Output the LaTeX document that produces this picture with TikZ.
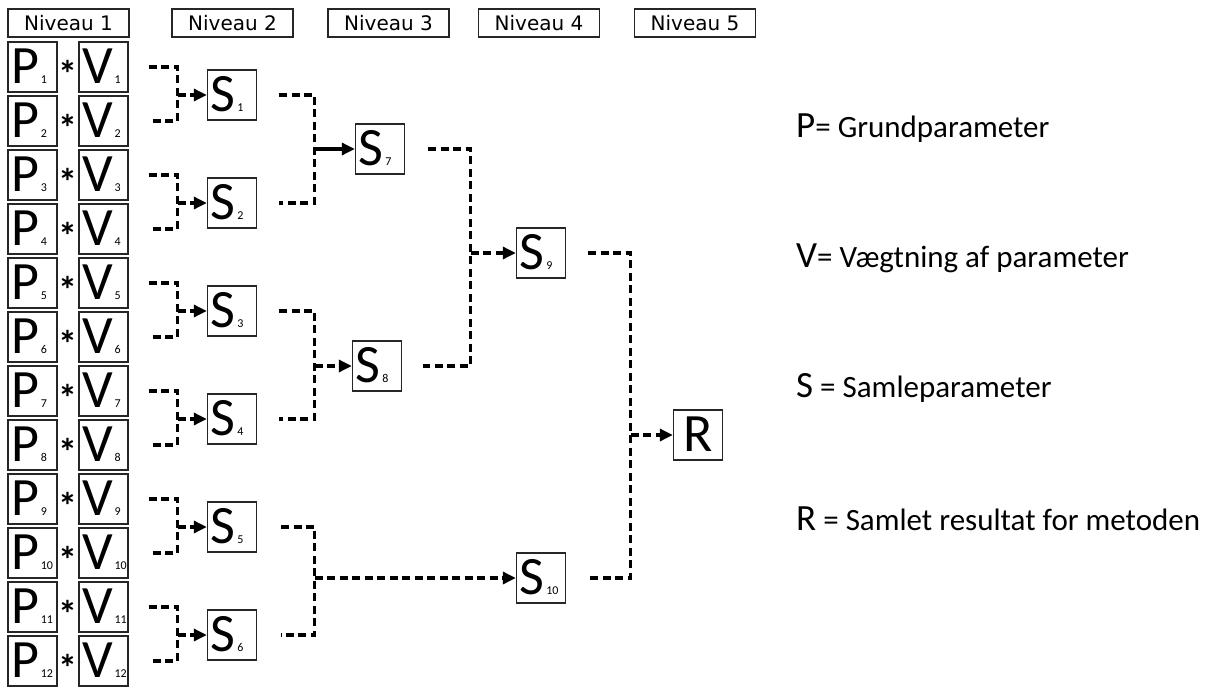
\documentclass[tikz,border=0pt]{standalone}
\usepackage{fontspec}
\setmainfont{Carlito}
\newfontfamily\hdrfont{DejaVu Sans}
\usetikzlibrary{arrows.meta}
\newcommand{\lett}[2]{\makebox[43pt][l]{{\fontsize{54}{54}\selectfont #1}\hspace{2pt}{\fontsize{12}{12}\selectfont #2}}}
\newcommand{\legbig}{\fontsize{37}{37}\selectfont}
\newcommand{\legtxt}{\fontsize{31}{31}\selectfont}
\tikzset{
  box/.style={draw=black!85, line width=1.4pt, inner sep=0pt, minimum width=49pt, minimum height=50pt, text height=33pt, text depth=0pt},
  hdr/.style={draw=black!85, line width=1.3pt, inner sep=0pt, minimum width=121pt, minimum height=28pt, font=\hdrfont\fontsize{20}{20}\selectfont},
  ast/.style={inner sep=0pt, anchor=base, font=\bfseries\fontsize{38}{38}\selectfont},
  dl/.style={line width=3.2pt, dash pattern=on 8pt off 4.5pt},
  arr/.style={dl, -{Triangle[length=13pt,width=12pt]}},
  sarr/.style={line width=3.2pt, -{Triangle[length=13pt,width=12pt]}},
  leg/.style={anchor=base west, inner sep=0pt}
}
\begin{document}
\begin{tikzpicture}[x=1pt,y=-1pt]
\path[use as bounding box, fill=white] (0,0) rectangle (1207,688);
% headers
\node[hdr] (N1) at (68.5,23) {Niveau 1};
\node[hdr] (N2) at (232.5,23) {Niveau 2};
\node[hdr] (N3) at (388.5,23) {Niveau 3};
\node[hdr] (N4) at (539,23) {Niveau 4};
\node[hdr] (N5) at (695,23) {Niveau 5};
% level 1
\foreach \i in {1,...,12} {
  \pgfmathsetmacro\yy{67+54*(\i-1)}
  \node[box] (P\i) at (32.5,\yy) {\lett{P}{\i}};
  \node[box] (V\i) at (103.5,\yy) {\lett{V}{\i}};
  \node[ast] (A\i) at (68,\yy+20) {*};
}
% level 2
\foreach \k/\yy in {1/95,2/203,3/311,4/419,5/527,6/635} {
  \node[box] (S\k) at (232,\yy) {\lett{S}{\k}};
}
% level 3,4,5
\node[box] (S7) at (380,149) {\lett{S}{7}};
\node[box] (S8) at (377,366) {\lett{S}{8}};
\node[box] (S9) at (541,253) {\lett{S}{9}};
\node[box] (S10) at (541,578) {\lett{S}{10}};
\node[box] (R) at (698,435) {\fontsize{54}{54}\selectfont R};
% level 1 -> 2 connectors
\foreach \k in {1,...,6} {
  \pgfmathtruncatemacro\a{2*\k-1}
  \pgfmathtruncatemacro\b{2*\k}
  \coordinate (J\k) at ([xshift=-29pt]S\k.west);
  \draw[dl] ([xshift=20pt]V\a.east) -| (J\k |- V\b.east) -- ([xshift=20pt]V\b.east);
  \draw[arr] (J\k) -- (S\k.west);
}
% level 2 -> 3
\coordinate (J7) at ([xshift=-40pt]S7.west);
\draw[dl] ([xshift=22pt]S1.east) -| (J7 |- S2.east) -- ([xshift=22pt]S2.east);
\draw[sarr] (J7) -- (S7.west);
\coordinate (J8) at ([xshift=-37pt]S8.west);
\draw[dl] ([xshift=22pt]S3.east) -| (J8 |- S4.east) -- ([xshift=22pt]S4.east);
\draw[arr] (J8) -- (S8.west);
\coordinate (J10) at ([xshift=-201pt]S10.west);
\draw[dl] ([xshift=24pt]S5.east) -| (J10 |- S6.east) -- ([xshift=24pt]S6.east);
\draw[arr] (J10) -- (S10.west);
% level 3 -> 4
\coordinate (J9) at ([xshift=-45pt]S9.west);
\draw[dl] ([xshift=23pt]S7.east) -| (J9 |- S8.east) -- ([xshift=21pt]S8.east);
\draw[arr] (J9) -- (S9.west);
% level 4 -> 5
\coordinate (JR) at ([xshift=-42pt]R.west);
\draw[dl] ([xshift=22pt]S9.east) -| (JR |- S10.east) -- ([xshift=23pt]S10.east);
\draw[arr] (JR) -- (R.west);
% legend
\node[leg] (LP) at (796,137) {{\legbig P}{\legtxt= Grundparameter}};
\node[leg] (LV) at (796,267) {{\legbig V}{\legtxt= Vægtning af parameter}};
\node[leg] (LS) at (796,397) {{\legbig S}{\legtxt{} = Samleparameter}};
\node[leg] (LR) at (796,530) {{\legbig R}{\legtxt{} = Samlet resultat for metoden}};
\end{tikzpicture}
\end{document}
